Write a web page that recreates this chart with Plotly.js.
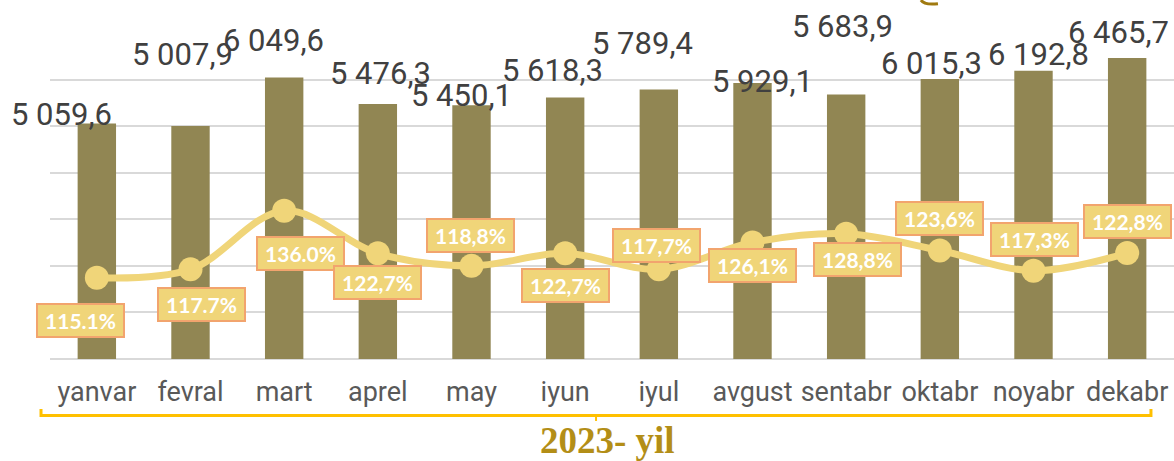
<!DOCTYPE html>
<html>
<head>
<meta charset="utf-8">
<script src="https://cdn.plot.ly/plotly-3.0.1.min.js"></script>
<style>
html,body{margin:0;padding:0;background:#fff;}
#chart{width:1174px;height:461px;}
</style>
</head>
<body>
<div id="chart"></div>
<script>
// ---- data ----
var months = ["yanvar","fevral","mart","aprel","may","iyun","iyul","avgust","sentabr","oktabr","noyabr","dekabr"];
var volume = [5059.6, 5007.9, 6049.6, 5476.3, 5450.1, 5618.3, 5789.4, 5929.1, 5683.9, 6015.3, 6192.8, 6465.7];
var volumeLabels = ["5 059,6","5 007,9","6 049,6","5 476,3","5 450,1","5 618,3","5 789,4","5 929,1","5 683,9","6 015,3","6 192,8","6 465,7"];
var growth = [115.1, 117.7, 136.0, 122.7, 118.8, 122.7, 117.7, 126.1, 128.8, 123.6, 117.3, 122.8];
var growthLabels = ["115.1%","117.7%","136.0%","122,7%","118,8%","122,7%","117,7%","126,1%","128,8%","123,6%","117,3%","122,8%"];
var yearLabel = "2023- yil";

// ---- label placement (pixel offsets from the mark, as laid out in the source) ----
var volOffsets = [[-35,9],[-8,71],[-11,37],[3,31],[-10,10],[-13,27],[-16,46],[10,2],[-4,68],[-8,16],[5,16],[-9,26]];
var growthOffsets = [[-16,-43],[11,-35],[16,-43],[0,-29],[-1,30],[0,-32],[-2,24],[0,-23],[11,-26],[0,32],[1,31],[0,32]];

var barColor = "#918653";
var lineColor = "#F0D579";

var traces = [
  {
    type: "bar",
    x: months,
    y: volume,
    marker: {color: barColor},
    hoverinfo: "skip"
  },
  {
    type: "scatter",
    mode: "lines+markers",
    x: months,
    y: growth,
    yaxis: "y2",
    line: {color: lineColor, width: 7, shape: "spline", smoothing: 1},
    marker: {color: lineColor, size: 24},
    hoverinfo: "skip"
  }
];

var annotations = [];
months.forEach(function(m, i){
  annotations.push({
    x: m, y: volume[i], xref: "x", yref: "y",
    text: volumeLabels[i], showarrow: false,
    xanchor: "center", yanchor: "middle",
    xshift: volOffsets[i][0], yshift: volOffsets[i][1],
    font: {family: "Roboto, sans-serif", size: 31, color: "#404040"}
  });
  annotations.push({
    x: m, y: growth[i], xref: "x", yref: "y2",
    text: "<b>" + growthLabels[i] + "</b>", showarrow: false,
    xanchor: "center", yanchor: "middle",
    xshift: growthOffsets[i][0], yshift: growthOffsets[i][1],
    bgcolor: "#F0D579", bordercolor: "#F2A46E", borderwidth: 2, borderpad: 0,
    width: 85, height: 31,
    font: {family: "Lato, sans-serif", size: 21, color: "#ffffff"}
  });
});
annotations.push({
  x: 0.4956, y: -0.25, xref: "paper", yref: "paper",
  text: "<b>" + yearLabel + "</b>", showarrow: false,
  xanchor: "center", yanchor: "middle",
  font: {family: "Liberation Serif, Times New Roman, serif", size: 37, color: "#B38E17"}
});

var layout = {
  width: 1174, height: 461,
  margin: {l: 50, r: 0, t: 33, b: 102, pad: 0},
  paper_bgcolor: "#ffffff", plot_bgcolor: "#ffffff",
  showlegend: false,
  bargap: 0.59,
  xaxis: {
    type: "category", automargin: false, range: [-0.5, 11.5], autorange: false,
    showgrid: false, zeroline: false, showline: false,
    ticks: "", ticklabelstandoff: 14,
    tickfont: {family: "Roboto, sans-serif", size: 27, color: "#595959"},
    fixedrange: true
  },
  yaxis: {
    range: [0, 7004], tick0: 0, dtick: 1000, showticklabels: false, automargin: false,
    showgrid: true, gridcolor: "#D9D9D9", gridwidth: 2,
    zeroline: true, zerolinecolor: "#D9D9D9", zerolinewidth: 2,
    showline: false, fixedrange: true
  },
  yaxis2: {
    overlaying: "y", side: "right", range: [89.74, 191.43], automargin: false,
    showticklabels: false, showgrid: false, zeroline: false, showline: false, fixedrange: true
  },
  annotations: annotations,
  shapes: [
    {type: "path", xref: "paper", yref: "paper",
     path: "M -0.008 -0.153 L -0.008 -0.173 L 0.9795 -0.173 L 0.9795 -0.153",
     line: {color: "#FFC000", width: 3}},
    {type: "line", xref: "paper", yref: "paper",
     x0: 0.4858, x1: 0.4858, y0: -0.173, y1: -0.19,
     line: {color: "#FFC000", width: 2}},
    {type: "path", xref: "paper", yref: "paper",
     path: "M 0.7749 1.101 Q 0.7780 1.085 0.7900 1.090",
     line: {color: "#A07A10", width: 3}}
  ]
};

Plotly.newPlot("chart", traces, layout, {displayModeBar: false, staticPlot: true});
</script>
</body>
</html>
